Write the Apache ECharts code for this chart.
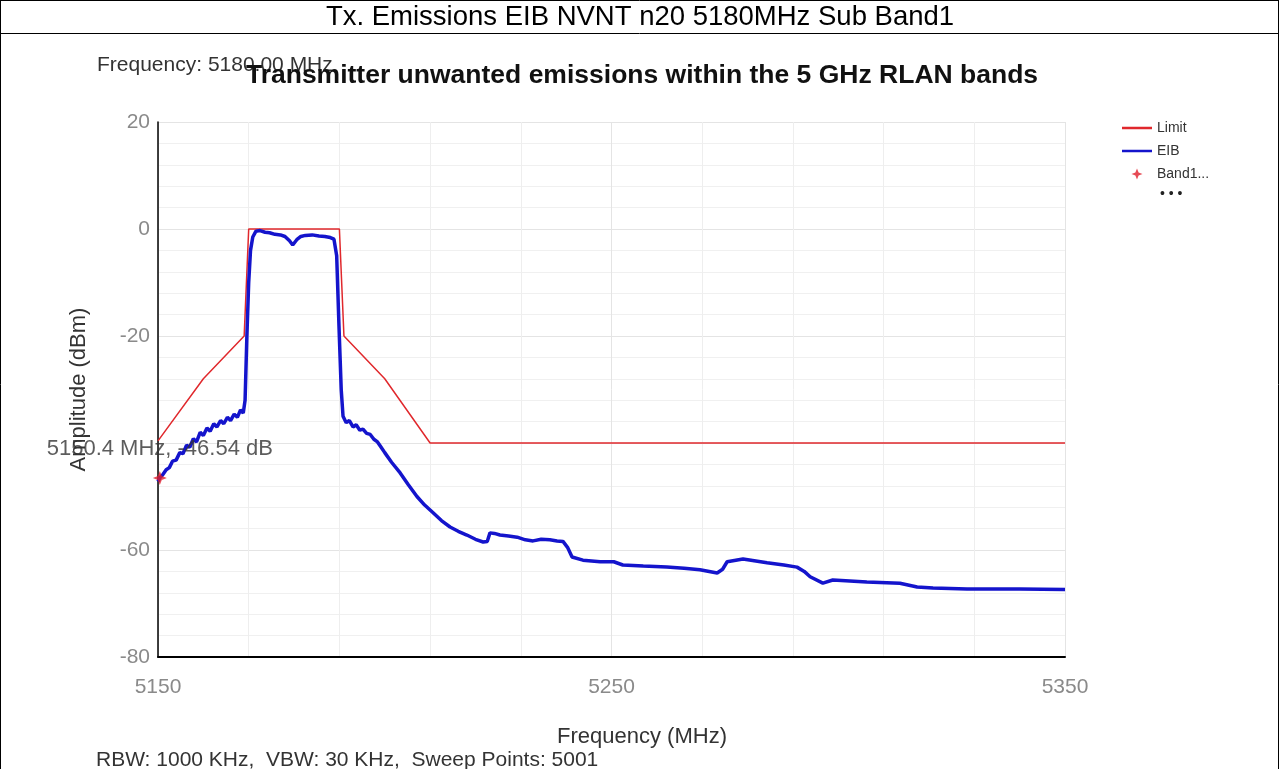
<!DOCTYPE html>
<html>
<head>
<meta charset="utf-8">
<script src="https://cdn.jsdelivr.net/npm/echarts@6/dist/echarts.min.js"></script>
<style>
  html, body { margin: 0; padding: 0; background: #fff; }
  #chart { width: 1280px; height: 769px; }
</style>
</head>
<body>
<div id="chart"></div>
<script>
  'use strict'

  /*---- data ----*/
  var xTicks = [5150, 5250, 5350];
  var yTicks = [-80, -60, -40, -20, 0, 20];

  var limitFreq  = [5150, 5160, 5169, 5170, 5190, 5191, 5200, 5210, 5350];
  var limitLevel = [-39.6, -28, -20, 0, 0, -20, -28, -40, -40];

  var eibFreq = [5150.0, 5150.4, 5151.0, 5151.8, 5152.5, 5153.2, 5154.0, 5154.8, 5155.5, 5156.3,
    5157.0, 5157.8, 5158.5, 5159.3, 5160.0, 5160.8, 5161.5, 5162.3, 5163.0, 5163.8,
    5164.5, 5165.3, 5166.0, 5166.8, 5167.5, 5168.2, 5168.8, 5169.2, 5169.6, 5170.0,
    5170.4, 5170.9, 5171.6, 5172.5, 5173.6, 5174.6, 5175.8, 5177.0, 5178.0, 5179.0,
    5179.7, 5180.6, 5181.5, 5182.5, 5184.0, 5185.5, 5186.8, 5188.0, 5188.8, 5189.4,
    5189.9, 5190.4, 5190.8, 5191.5, 5192.2, 5193.0, 5193.7, 5194.5, 5195.2, 5196.0,
    5196.8, 5197.6, 5198.4, 5199.2, 5200.0, 5201.5, 5203.4, 5205.2, 5207.1, 5208.8,
    5210.6, 5212.5, 5214.4, 5216.2, 5218.1, 5220.0, 5221.7, 5222.6, 5223.2, 5224.2,
    5225.4, 5227.3, 5229.2, 5231.0, 5232.7, 5234.5, 5236.4, 5238.0, 5239.3, 5240.3,
    5241.3, 5243.7, 5247.5, 5250.5, 5252.5, 5257.0, 5262.2, 5266.0, 5269.5, 5273.3,
    5274.5, 5275.5, 5279.0, 5284.3, 5288.0, 5290.9, 5292.5, 5293.8, 5296.6, 5298.8,
    5306.3, 5313.6, 5317.4, 5320.9, 5328.4, 5340.0, 5350.0];
  var eibLevel = [-47.2, -46.5, -46.0, -45.0, -44.6, -43.4, -43.2, -41.8, -42.0, -40.4,
    -40.8, -39.2, -39.8, -38.0, -38.6, -37.2, -37.8, -36.4, -37.0, -35.8,
    -36.4, -35.2, -35.8, -34.6, -35.2, -33.8, -34.4, -32.0, -20, -10,
    -4, -1.5, -0.4, -0.3, -0.6, -0.7, -1.0, -1.1, -1.4, -2.2,
    -3.0, -2.0, -1.4, -1.2, -1.1, -1.3, -1.4, -1.6, -1.9, -5,
    -18, -30, -35.0, -36.2, -35.8, -37.0, -36.6, -37.6, -37.4, -38.2,
    -38.4, -39.3, -39.8, -40.8, -41.8, -43.6, -45.6, -47.8, -50.0, -51.6,
    -53.0, -54.5, -55.7, -56.5, -57.2, -58.0, -58.5, -58.4, -56.8, -56.9,
    -57.2, -57.4, -57.6, -58.1, -58.3, -58.0, -58.1, -58.3, -58.4, -59.5,
    -61.3, -61.9, -62.2, -62.2, -62.8, -63.0, -63.2, -63.4, -63.7, -64.3,
    -63.6, -62.2, -61.7, -62.4, -62.8, -63.2, -64.0, -65.0, -66.2, -65.6,
    -66.0, -66.2, -66.9, -67.1, -67.3, -67.3, -67.4];

  var markerFreq  = [5150.4];
  var markerLevel = [-46.54];

  function pairs(xs, ys) {
    var out = [];
    for (var i = 0; i < xs.length; i++) out.push([xs[i], ys[i]]);
    return out;
  }

  var font = 'Liberation Sans, Arial, sans-serif';
  // legend icons, padded to a 30x14 box so they are not stretched
  var lineIcon = 'path://M0,0 L0.01,0 M0,5.8 L30,5.8 L30,8.2 L0,8.2 Z M29.99,14 L30,14';
  var starIcon = 'path://M0,0 L0.01,0 M15,1.5 L16.6,5.4 L20.5,7 L16.6,8.6 L15,12.5 L13.4,8.6 L9.5,7 L13.4,5.4 Z M29.99,14 L30,14';
  var starSymbol = 'path://M5,0 L6.4,3.6 L10,5 L6.4,6.4 L5,10 L3.6,6.4 L0,5 L3.6,3.6 Z';

  var chart = echarts.init(document.getElementById('chart'), null, { renderer: 'canvas' });

  var option = {
    animation: false,
    backgroundColor: '#fff',
    textStyle: { fontFamily: font },
    grid: { left: 158, right: 215, top: 122, bottom: 112, containLabel: false },
    legend: {
      orient: 'vertical',
      left: 1117,
      top: 116,
      itemWidth: 30,
      itemHeight: 14,
      itemGap: 9,
      textStyle: { fontSize: 14, color: '#333', fontFamily: font },
      data: [
        { name: 'Limit', icon: lineIcon },
        { name: 'EIB', icon: lineIcon },
        { name: 'Band1...', icon: starIcon }
      ]
    },
    xAxis: {
      type: 'value',
      min: xTicks[0],
      max: xTicks[xTicks.length - 1],
      interval: 100,
      axisLine: { show: true, onZero: false, lineStyle: { color: '#000', width: 2 } },
      axisTick: { show: false },
      axisLabel: { fontSize: 21, color: '#8a8a8a', margin: 20,
        formatter: function (v) { return String(v); } },
      splitLine: { show: true, lineStyle: { color: '#e4e4e4', width: 1 } },
      minorTick: { show: false, splitNumber: 5 },
      minorSplitLine: { show: true, lineStyle: { color: '#eeeeee', width: 1 } }
    },
    yAxis: {
      type: 'value',
      min: yTicks[0],
      max: yTicks[yTicks.length - 1],
      interval: 20,
      name: 'Amplitude (dBm)',
      nameLocation: 'middle',
      nameGap: 68,
      nameTextStyle: { fontSize: 22, color: '#333' },
      axisLine: { show: true, onZero: false, lineStyle: { color: '#000', width: 1.5 } },
      axisTick: { show: false },
      axisLabel: { fontSize: 21, color: '#8a8a8a', margin: 8,
        // the -40 tick label sits under the marker readout in the original
        formatter: function (v) { return v === -40 ? '' : String(v); } },
      splitLine: { show: true, lineStyle: { color: '#e4e4e4', width: 1 } },
      minorTick: { show: false, splitNumber: 5 },
      minorSplitLine: { show: true, lineStyle: { color: '#f0f0f0', width: 1 } }
    },
    series: [
      {
        name: 'Limit',
        type: 'line',
        symbol: 'none',
        color: '#e0282c',
        lineStyle: { color: '#e0282c', width: 1.5 },
        data: pairs(limitFreq, limitLevel),
        z: 2
      },
      {
        name: 'EIB',
        type: 'line',
        symbol: 'none',
        color: '#1414cc',
        lineStyle: { color: '#1414cc', width: 3.5 },
        data: pairs(eibFreq, eibLevel),
        z: 3
      },
      {
        name: 'Band1...',
        type: 'scatter',
        symbol: starSymbol,
        symbolSize: 14,
        color: '#e01e2a',
        itemStyle: { color: '#e01e2a' },
        label: {
          show: true,
          position: 'top',
          distance: 11,
          fontSize: 22,
          color: '#333',
          formatter: function (p) {
            return p.value[0].toFixed(1) + ' MHz, ' + p.value[1].toFixed(2) + ' dB';
          }
        },
        data: pairs(markerFreq, markerLevel),
        z: 5
      }
    ],
    graphic: [
      { type: 'rect', shape: { x: 0.5, y: 0.5, width: 1278, height: 33 },
        style: { fill: 'none', stroke: '#000', lineWidth: 1 } },
      { type: 'line', shape: { x1: 0.5, y1: 0, x2: 0.5, y2: 769 }, style: { stroke: '#000', lineWidth: 1 } },
      { type: 'line', shape: { x1: 1278.5, y1: 0, x2: 1278.5, y2: 769 }, style: { stroke: '#000', lineWidth: 1 } },
      { type: 'text', x: 640, y: 17,
        style: { text: 'Tx. Emissions EIB NVNT n20 5180MHz Sub Band1', fontSize: 27.5, fontFamily: font,
          fill: '#000', align: 'center', verticalAlign: 'middle' } },
      { type: 'text', x: 97, y: 65,
        style: { text: 'Frequency: 5180.00 MHz', fontSize: 21, fontFamily: font,
          fill: '#333', align: 'left', verticalAlign: 'middle' } },
      { type: 'text', x: 642, y: 76, z: 10,
        style: { text: 'Transmitter unwanted emissions within the 5 GHz RLAN bands', fontSize: 26.5,
          fontWeight: 'bold', fontFamily: font, fill: '#111', align: 'center', verticalAlign: 'middle' } },
      { type: 'text', x: 642, y: 737,
        style: { text: 'Frequency (MHz)', fontSize: 22, fontFamily: font,
          fill: '#333', align: 'center', verticalAlign: 'middle' } },
      { type: 'text', x: 96, y: 760,
        style: { text: 'RBW: 1000 KHz,  VBW: 30 KHz,  Sweep Points: 5001', fontSize: 21, fontFamily: font,
          fill: '#333', align: 'left', verticalAlign: 'middle' } },
      { type: 'text', x: 1160, y: 194,
        style: { text: '• • •', fontSize: 14, fontFamily: font,
          fill: '#222', align: 'left', verticalAlign: 'middle' } }
    ]
  };

  chart.setOption(option);
</script>
</body>
</html>
